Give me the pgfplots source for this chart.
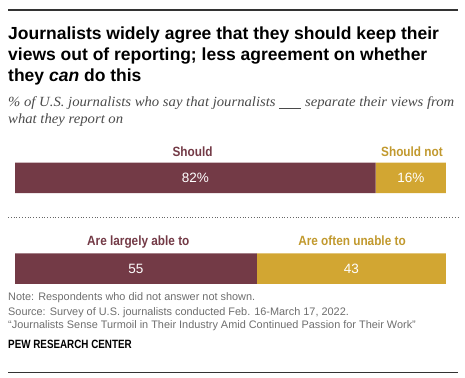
\documentclass[border=0pt]{standalone}
\usepackage{pgfplots}
\pgfplotsset{compat=1.18}
\usepackage{fontspec}
\setmainfont{Liberation Sans}
\newfontfamily\titlefont{Liberation Sans}
\newfontfamily\subfont[FakeStretch=1.05]{Liberation Serif}
\newfontfamily\condfont[FakeStretch=0.88]{Liberation Sans}
\newfontfamily\pewfont[FakeStretch=0.82]{Liberation Sans}
\definecolor{maroon}{HTML}{733A46}
\definecolor{gold}{HTML}{D2A632}
\definecolor{notegray}{HTML}{6E6E6E}
\definecolor{subgray}{HTML}{4A4A4A}
\begin{document}
\begin{tikzpicture}
\path[use as bounding box] (0,0) rectangle (465bp,378bp);
\draw[line width=1.2bp, color=black!80] (8bp,368bp) -- (458bp,368bp);
\tikzset{tl/.style={anchor=base west, inner sep=0pt, font=\titlefont\bfseries\fontsize{17.5bp}{21bp}\selectfont}}
\node[tl] at (8bp,338bp) {Journalists widely agree that they should keep their};
\node[tl] at (8bp,317bp) {views out of reporting; less agreement on whether};
\node[tl] at (8bp,296bp) {they \textit{can} do this};
\tikzset{sl/.style={anchor=base west, inner sep=0pt, text=subgray, font=\subfont\itshape\fontsize{14bp}{17bp}\selectfont}}
\node[sl] at (8bp,271bp) {\% of U.S. journalists who say that journalists \underline{\hspace{22bp}} separate their views from};
\node[sl] at (8bp,254bp) {what they report on};
\tikzset{cl/.style={anchor=base, inner sep=0pt, font=\condfont\bfseries\fontsize{13.4bp}{15bp}\selectfont}}
\node[cl, text=maroon] at (192.5bp,221.3bp) {Should};
\node[cl, text=gold!92!black] at (412bp,221.3bp) {Should not};
\node[cl, text=maroon] at (138.3bp,132.3bp) {Are largely able to};
\node[cl, text=gold!92!black] at (352bp,132.3bp) {Are often unable to};
\draw[line width=0.8bp, dotted, color=black!60] (8bp,160.3bp) -- (458bp,160.3bp);
\begin{axis}[at={(15bp,63.95bp)}, anchor=south west, scale only axis,
  width=431bp, height=181.4bp, xmin=0, xmax=98, ymin=-0.5, ymax=1.5,
  hide axis, xbar stacked, bar width=30.5bp, clip=false]
\addplot[fill=maroon, draw=none] coordinates {(82,1) (55,0)};
\addplot[fill=gold, draw=none] coordinates {(16,1) (43,0)};
\coordinate (a) at (axis cs:41,1);
\coordinate (b) at (axis cs:90,1);
\coordinate (c) at (axis cs:27.5,0);
\coordinate (d) at (axis cs:76.5,0);
\end{axis}
\tikzset{vl/.style={text=white, inner sep=0pt, font=\fontsize{13.5bp}{15bp}\selectfont}}
\node[vl] at (a) {82\%};
\node[vl] at (b) {16\%};
\node[vl] at (c) {55};
\node[vl] at (d) {43};
\tikzset{nl/.style={anchor=base west, inner sep=0pt, text=notegray, font=\fontsize{10.9bp}{13bp}\selectfont}}
\node[nl] at (8bp,77bp) {Note: Respondents who did not answer not shown.};
\node[nl] at (8bp,62.3bp) {Source: Survey of U.S. journalists conducted Feb. 16-March 17, 2022.};
\node[nl] at (8bp,49bp) {``Journalists Sense Turmoil in Their Industry Amid Continued Passion for Their Work''};
\node[anchor=base west, inner sep=0pt, font=\pewfont\bfseries\fontsize{12bp}{14bp}\selectfont] at (8bp,29.7bp) {PEW RESEARCH CENTER};
\draw[line width=1.2bp, color=black!80] (8bp,5.7bp) -- (458bp,5.7bp);
\end{tikzpicture}
\end{document}
